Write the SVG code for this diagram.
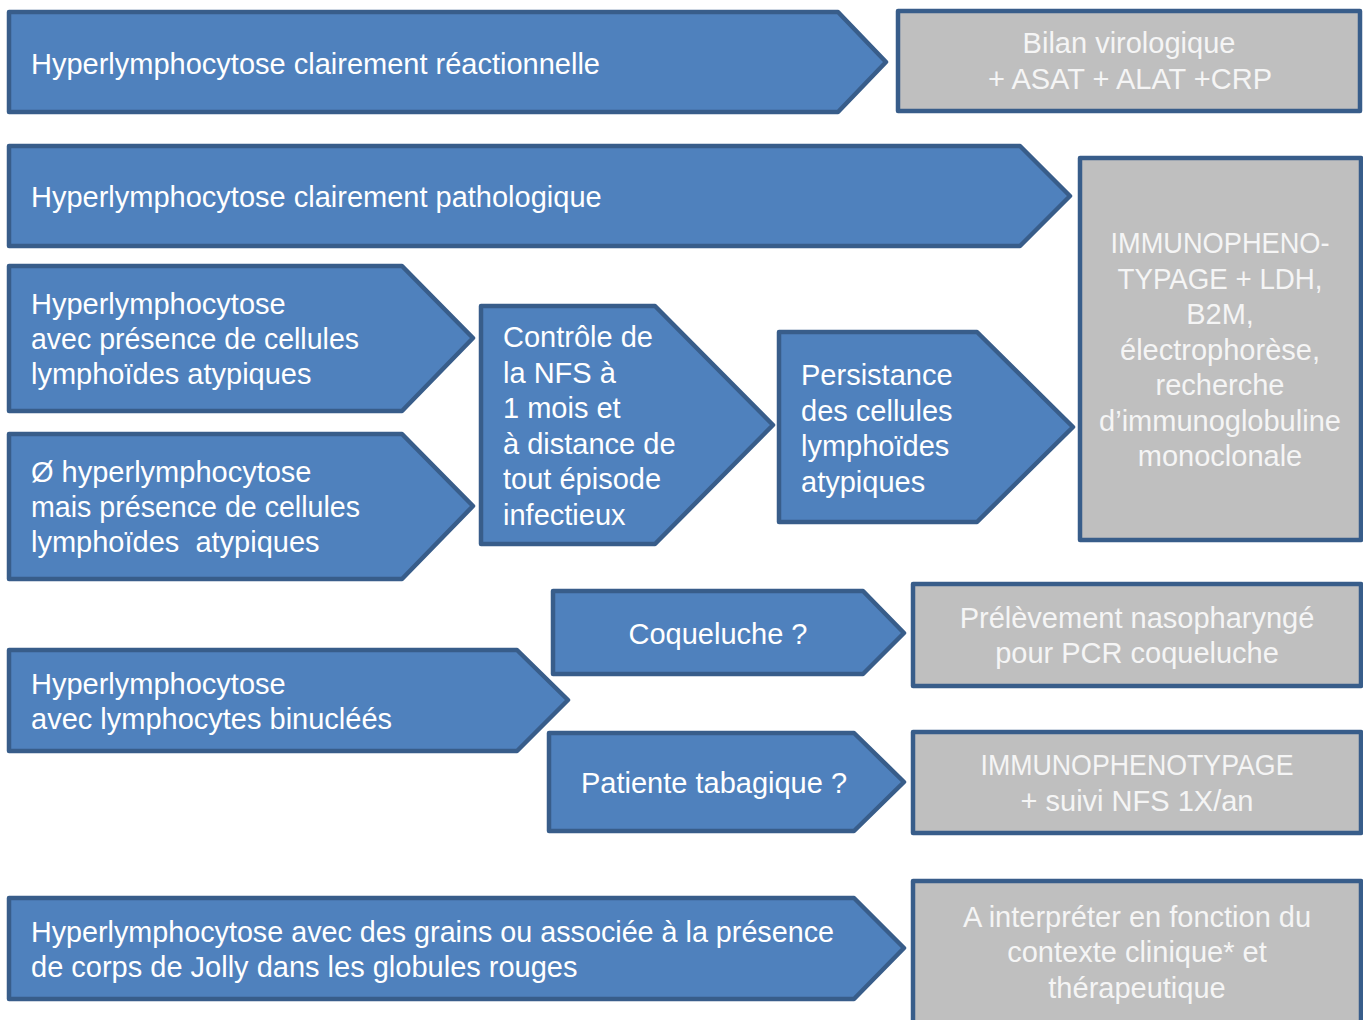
<svg xmlns="http://www.w3.org/2000/svg" width="1363" height="1020" viewBox="0 0 1363 1020">
<style>
.a{fill:#4F81BD;stroke:#385D8A;stroke-width:4.5;stroke-linejoin:round}
.b{fill:#BFBFBF;stroke:#385D8A;stroke-width:4.5;stroke-linejoin:round}
text{font-family:"Liberation Sans",Arial,sans-serif;font-size:29px;fill:#FFFFFF}
.g{fill:#F5F5F5;text-anchor:middle}
.m{text-anchor:middle}
.p{white-space:pre}
</style>
<rect width="1363" height="1020" fill="#FFFFFF"/>
<g id="n1"><polygon class="a" points="9,12 838,12 886,62 838,112 9,112"/>
<text x="31" y="74">Hyperlymphocytose clairement réactionnelle</text></g>
<g id="r1"><rect class="b" x="898" y="11" width="462" height="100"/>
<text class="g" x="1129" y="53">Bilan virologique</text><text class="g" x="1130" y="89">+ ASAT + ALAT +CRP</text></g>
<g id="n2"><polygon class="a" points="9,146 1020,146 1070,196 1020,246 9,246"/>
<text x="31" y="207">Hyperlymphocytose clairement pathologique</text></g>
<g id="r2"><rect class="b" x="1080" y="158" width="281" height="382"/>
<text class="g" x="1220" y="253" textLength="219" lengthAdjust="spacingAndGlyphs">IMMUNOPHENO-</text><text class="g" x="1220" y="288.5" textLength="205" lengthAdjust="spacingAndGlyphs">TYPAGE + LDH,</text><text class="g" x="1220" y="324">B2M,</text><text class="g" x="1220" y="359.5">électrophorèse,</text><text class="g" x="1220" y="395">recherche</text><text class="g" x="1220" y="430.5">d’immunoglobuline</text><text class="g" x="1220" y="466">monoclonale</text></g>
<g id="n3"><polygon class="a" points="9,266 402,266 473,338 402,411 9,411"/>
<text x="31" y="314">Hyperlymphocytose</text><text x="31" y="349" textLength="328" lengthAdjust="spacingAndGlyphs">avec présence de cellules</text><text x="31" y="384">lymphoïdes atypiques</text></g>
<g id="n4"><polygon class="a" points="9,434 402,434 473,506 402,579 9,579"/>
<text x="31" y="482">Ø hyperlymphocytose</text><text x="31" y="517" textLength="329" lengthAdjust="spacingAndGlyphs">mais présence de cellules</text><text class="p" x="31" y="552" xml:space="preserve">lymphoïdes  atypiques</text></g>
<g id="n5"><polygon class="a" points="481,306 655,306 773,425 655,544 481,544"/>
<text x="503" y="347">Contrôle de</text><text x="503" y="382.5">la NFS à</text><text x="503" y="418">1 mois et</text><text x="503" y="453.5">à distance de</text><text x="503" y="489">tout épisode</text><text x="503" y="524.5">infectieux</text></g>
<g id="n6"><polygon class="a" points="779,332 977,332 1073,427 977,522 779,522"/>
<text x="801" y="385">Persistance</text><text x="801" y="420.5">des cellules</text><text x="801" y="456">lymphoïdes</text><text x="801" y="491.5">atypiques</text></g>
<g id="n7"><polygon class="a" points="553,591 863,591 904,633 863,674 553,674"/>
<text class="m" x="718" y="644">Coqueluche ?</text></g>
<g id="r3"><rect class="b" x="913" y="584" width="448" height="102"/>
<text class="g" x="1137" y="628">Prélèvement nasopharyngé</text><text class="g" x="1137" y="663">pour PCR coqueluche</text></g>
<g id="n8"><polygon class="a" points="9,650 517,650 568,700 517,751 9,751"/>
<text x="31" y="694">Hyperlymphocytose</text><text x="31" y="729">avec lymphocytes binucléés</text></g>
<g id="n9"><polygon class="a" points="549,733 854,733 904,782 854,831 549,831"/>
<text class="m" x="714" y="793">Patiente tabagique ?</text></g>
<g id="r4"><rect class="b" x="913" y="732" width="448" height="101"/>
<text class="g" x="1137" y="775" textLength="313" lengthAdjust="spacingAndGlyphs">IMMUNOPHENOTYPAGE</text><text class="g" x="1137" y="811">+ suivi NFS 1X/an</text></g>
<g id="n10"><polygon class="a" points="9,898 854,898 904,948 854,999 9,999"/>
<text x="31" y="942" textLength="803" lengthAdjust="spacingAndGlyphs">Hyperlymphocytose avec des grains ou associée à la présence</text><text x="31" y="977">de corps de Jolly dans les globules rouges</text></g>
<g id="r5"><rect class="b" x="913" y="881" width="448" height="150"/>
<text class="g" x="1137" y="927">A interpréter en fonction du</text><text class="g" x="1137" y="962">contexte clinique* et</text><text class="g" x="1137" y="998">thérapeutique</text></g>
<g id="connectors"></g>
</svg>
